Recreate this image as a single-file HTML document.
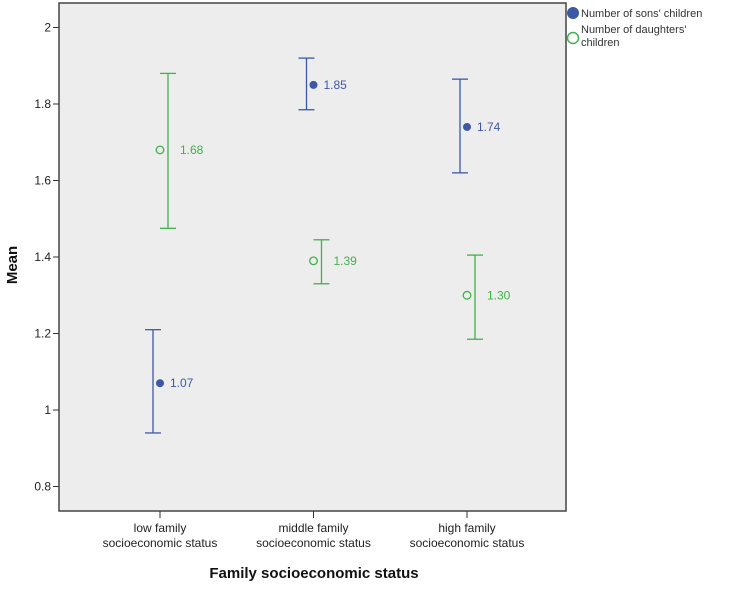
<!DOCTYPE html>
<html><head><meta charset="utf-8"><style>
body{margin:0;background:#fff;width:734px;height:587px;overflow:hidden}
text{font-family:"Liberation Sans",sans-serif}
</style></head><body>
<svg id="chart" width="734" height="587" xmlns="http://www.w3.org/2000/svg">
<rect x="59" y="3" width="507" height="508" fill="#ededed" stroke="#444" stroke-width="1.5"/>
<g id="axes"></g><g id="marks"></g>
<text transform="translate(17,265) rotate(-90)" text-anchor="middle" font-size="15" font-weight="bold" fill="#111">Mean</text>
<text x="314" y="578" text-anchor="middle" font-size="15" font-weight="bold" fill="#111">Family socioeconomic status</text>
<g>
<circle cx="573" cy="13" r="6" fill="#3e58a8"/>
<text x="581" y="17" font-size="11" fill="#333">Number of sons' children</text>
<circle cx="573" cy="38" r="5.5" fill="none" stroke="#3fb24a" stroke-width="1.5"/>
<text x="581" y="33" font-size="11" fill="#333">Number of daughters'</text>
<text x="581" y="46" font-size="11" fill="#333">children</text>
</g>
</svg>
<script>
const categories=["low family|socioeconomic status","middle family|socioeconomic status","high family|socioeconomic status"];
const sonsMean=[1.07,1.85,1.74];
const sonsLow=[0.94,1.785,1.62];
const sonsHigh=[1.21,1.92,1.865];
const daughtersMean=[1.68,1.39,1.30];
const daughtersLow=[1.475,1.33,1.185];
const daughtersHigh=[1.88,1.445,1.405];
const yTicks=[0.8,1,1.2,1.4,1.6,1.8,2];
const NS="http://www.w3.org/2000/svg";
const y=v=>410-(v-1)*382.5;
const x=i=>160+i*153.5;
function mk(tag,attrs,parent){const e=document.createElementNS(NS,tag);for(const k in attrs)e.setAttribute(k,attrs[k]);parent.appendChild(e);return e;}
const axes=document.getElementById('axes'),marks=document.getElementById('marks');
yTicks.forEach(t=>{
  const l=mk('line',{x1:53,x2:59,y1:y(t),y2:y(t),stroke:'#333'},axes);
  
  
  const tx=mk('text',{x:51,y:y(t)+4,'text-anchor':'end','font-size':12,fill:'#222'},axes);
  tx.textContent=String(t);
  
  
});
categories.forEach((c,i)=>{
  const l=mk('line',{x1:x(i),x2:x(i),y1:511,y2:518,stroke:'#333'},axes);
  
  
  c.split('|').forEach((s,j)=>{
    const tx=mk('text',{x:x(i),y:532+j*15,'text-anchor':'middle','font-size':12,fill:'#222'},axes);
    tx.textContent=s;
    
    
  });
});
function series(mean,lo,hi,color,filled,off,name){
  mean.forEach((m,i)=>{
    const bx=x(i)+off;
    const g=mk('g',{stroke:color,'stroke-width':1.3},marks);
    
    
    mk('line',{x1:bx,x2:bx,y1:y(hi[i]),y2:y(lo[i])},g);
    mk('line',{x1:bx-8,x2:bx+8,y1:y(hi[i]),y2:y(hi[i])},g);
    mk('line',{x1:bx-8,x2:bx+8,y1:y(lo[i]),y2:y(lo[i])},g);
    const p=mk('circle',{cx:x(i),cy:y(m),r:filled?4:3.8,fill:filled?color:'none',stroke:color,'stroke-width':filled?0:1.3},marks);
    
    
    const t=mk('text',{x:x(i)+(off>0?20:10),y:y(m)+4,'font-size':12,fill:color},marks);
    t.textContent=m.toFixed(2);
    
    
  });
}
series(sonsMean,sonsLow,sonsHigh,'#3e58a8',true,-7,'sons');
series(daughtersMean,daughtersLow,daughtersHigh,'#3fb24a',false,8,'daughters');
</script>
</body></html>
